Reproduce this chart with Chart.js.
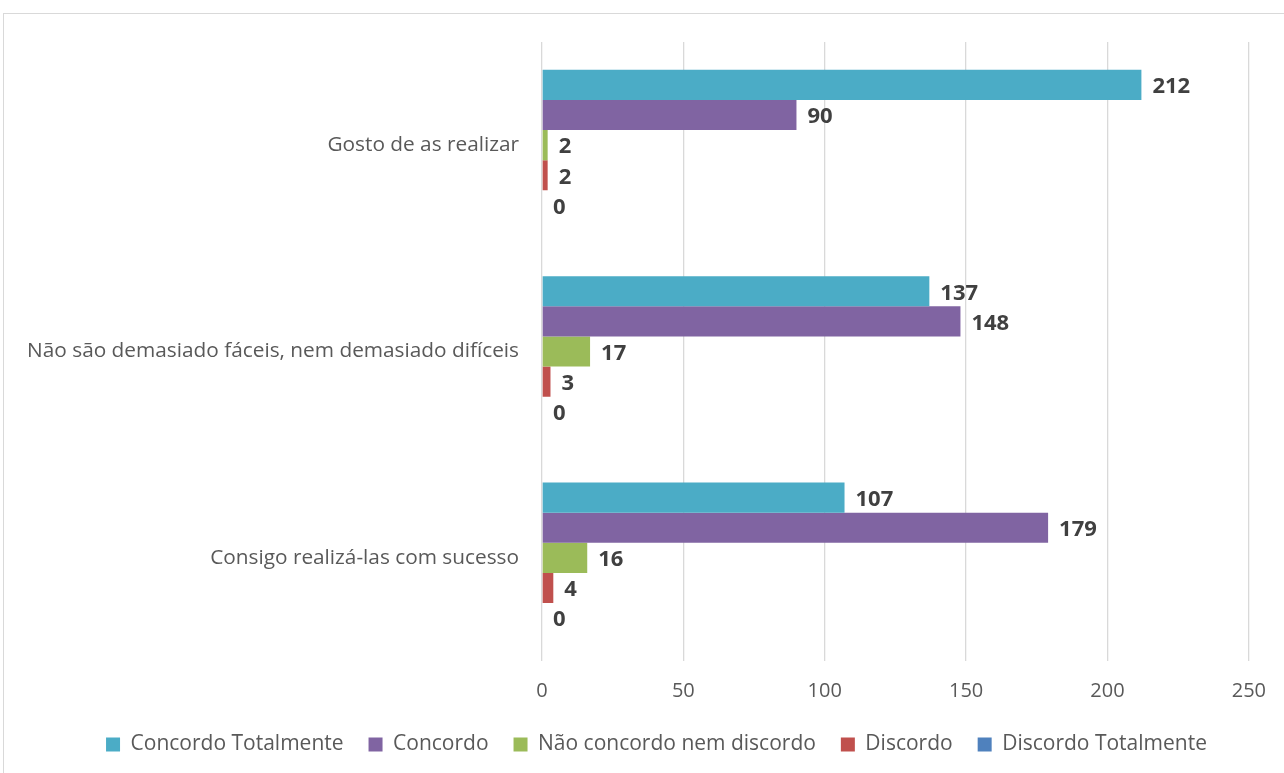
<!DOCTYPE html>
<html>
<head>
<meta charset="utf-8">
<script src="https://cdn.jsdelivr.net/npm/chart.js@4"></script>
<style>
  body { margin: 0; background: #fff; overflow: hidden; }
  #frame { position: absolute; left: 3px; top: 13px; width: 1300px; height: 800px; border: 1px solid #d9d9d9; }
  #wrap { position: absolute; left: 0; top: 0; width: 1284px; height: 773px; }
</style>
</head>
<body>
<div id="frame"></div>
<div id="wrap"><canvas id="myChart" width="1284" height="773"></canvas></div>
<script>
const categories = [
  "Gosto de as realizar",
  "Não são demasiado fáceis, nem demasiado difíceis",
  "Consigo realizá-las com sucesso",
];
const seriesNames = ["Concordo Totalmente", "Concordo", "Não concordo nem discordo", "Discordo", "Discordo Totalmente"];
const concordoTotalmente = [212, 137, 107];
const concordo = [90, 148, 179];
const nemNem = [2, 17, 16];
const discordo = [2, 3, 4];
const discordoTotalmente = [0, 0, 0];
const xTicks = [0, 50, 100, 150, 200, 250];

const COLORS = ["#4BACC6", "#8064A2", "#9BBB59", "#C0504D", "#4F81BD"];
const FONT = "'Open Sans', sans-serif";

// draws the value at the end of every bar
const valueLabels = {
  id: "valueLabels",
  afterDatasetsDraw(chart) {
    const c = chart.ctx;
    c.save();
    c.font = `bold 22px ${FONT}`;
    c.fillStyle = "#404040";
    c.textAlign = "left";
    c.textBaseline = "middle";
    chart.data.datasets.forEach((ds, i) => {
      chart.getDatasetMeta(i).data.forEach((bar, j) => {
        c.fillText(ds.data[j], bar.x + 11, bar.y + 2);
      });
    });
    c.restore();
  },
};

// legend in the reference sits a bit right of the canvas centre
const legendShift = {
  id: "legendShift",
  afterLayout(chart) {
    chart.legend.left += 27;
    chart.legend.right += 27;
  },
};

const allData = [concordoTotalmente, concordo, nemNem, discordo, discordoTotalmente];

const ctx = document.querySelector("canvas#myChart").getContext("2d");
const myChart = new Chart(ctx, {
  type: "bar",
  data: {
    labels: categories,
    datasets: seriesNames.map((name, i) => ({
      label: name,
      data: allData[i],
      backgroundColor: COLORS[i],
      borderWidth: 0,
      barPercentage: 1,
      categoryPercentage: 0.73,
    })),
  },
  options: {
    indexAxis: "y",
    responsive: false,
    animation: false,
    layout: { padding: { top: 42, right: 35, bottom: 8, left: 10 } },
    scales: {
      x: {
        min: 0,
        max: 250,
        afterBuildTicks: (s) => { s.ticks = xTicks.map((v) => ({ value: v })); },
        grid: { color: "#d9d9d9", lineWidth: 1.3, drawTicks: false },
        border: { display: false },
        ticks: { color: "#595959", font: { family: FONT, size: 20 }, padding: 18 },
        afterFit: (s) => { s.height = 48; },
      },
      y: {
        grid: { display: false, drawTicks: false },
        border: { display: false },
        ticks: { color: "#595959", font: { family: FONT, size: 20.8 }, padding: 23 },
        afterFit: (s) => { s.width = 532; },
      },
    },
    plugins: {
      legend: {
        position: "bottom",
        labels: {
          color: "#595959",
          font: { family: FONT, size: 21 },
          boxWidth: 14,
          boxHeight: 14,
          padding: 25,
        },
      },
      tooltip: { enabled: false },
    },
  },
  plugins: [valueLabels, legendShift],
});
</script>
</body>
</html>
